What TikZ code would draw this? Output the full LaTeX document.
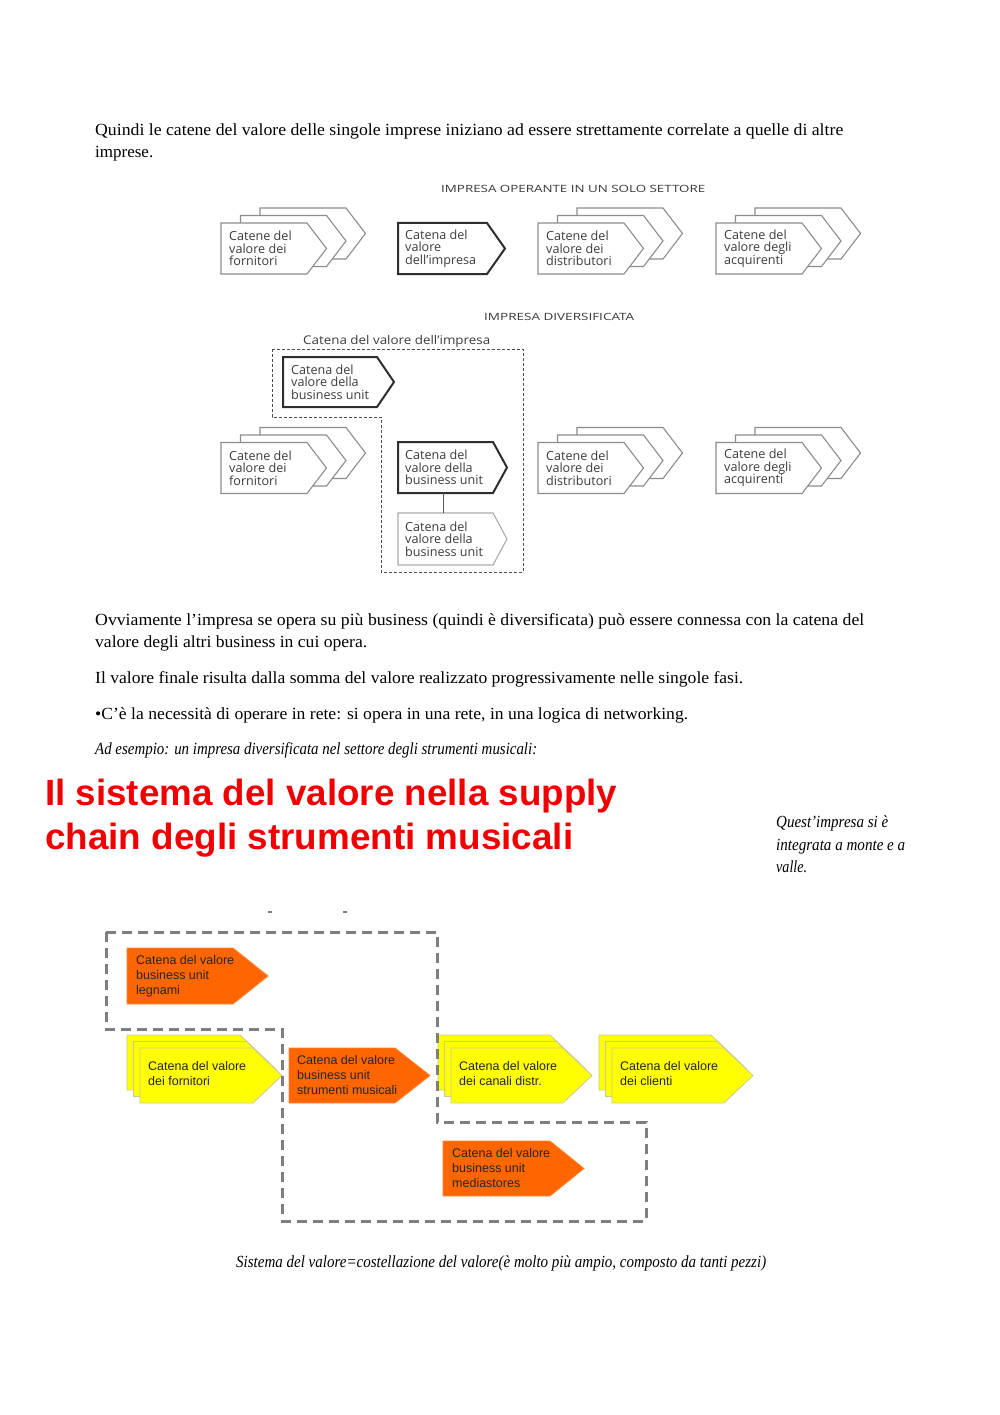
\documentclass[tikz,border=0pt]{standalone}
\usepackage{fontspec}
\usepackage{graphicx}
\setmainfont{Liberation Serif}
\newfontfamily\diagfont{Open Sans}
\newfontfamily\arialfont{Liberation Sans}
\usetikzlibrary{calc}
\definecolor{boxgray}{HTML}{8C8C8C}
\definecolor{darkline}{HTML}{2E2E2E}
\definecolor{lightline}{HTML}{ABABAB}
\definecolor{diagtext}{HTML}{3C3C3C}
\definecolor{orangefill}{HTML}{FF6600}
\definecolor{yellowfill}{HTML}{FFFF00}
\definecolor{yellowedge}{HTML}{C8C8A0}
\definecolor{dashgray}{HTML}{7F7F7F}
\definecolor{titlered}{HTML}{F00000}
\newcommand\fitw[2]{\resizebox{#1pt}{\height}{#2}}
\newcommand\chev[7]{%
  \node[shapebox, minimum width=#4pt, minimum height=#5pt] (#1) at (#2,#3) {};
  \draw[#7] (#1.north west) -- (#1.north east) -- ($(#1.east)+(#6,0)$) -- (#1.south east) -- (#1.south west) -- cycle;}
% top-diagram stack: #1 name, #2 x, #3 y, #4 text
\newcommand\graystack[4]{%
  \chev{#1-back}{#2+39}{#3-15}{86}{51}{19.5}{graybox}
  \chev{#1-mid}{#2+19.5}{#3-7.5}{86}{51}{19.5}{graybox}
  \chev{#1}{#2}{#3}{86}{51}{19.5}{graybox}
  \node[boxtxt] (#1-txt) at ([xshift=8pt]#1.west) {#4};}
% bottom-diagram yellow stack: #1 name, #2 x (back), #3 y (back), #4 width, #5 text
\newcommand\yellowstack[5]{%
  \chev{#1-back}{#2}{#3}{#4}{55}{29}{ybox}
  \chev{#1-mid}{#2+6.5}{#3+6.5}{#4}{55}{29}{ybox}
  \chev{#1}{#2+13}{#3+13}{#4}{55}{29}{ybox}
  \node[atxt] (#1-txt) at ([xshift=8pt,yshift=2pt]#1.west) {#5};}
\begin{document}
\begin{tikzpicture}[x=1pt,y=-1pt,
  shapebox/.style={rectangle, inner sep=0pt, outer sep=0pt, anchor=north west},
  graybox/.style={draw=boxgray, line width=1.1pt, fill=white, line join=miter},
  boldbox/.style={draw=darkline, line width=2pt, fill=white},
  lightbox/.style={draw=lightline, line width=1.1pt, fill=white},
  obox/.style={fill=orangefill, draw=orangefill!80!white, line width=0.8pt},
  ybox/.style={fill=yellowfill, draw=yellowedge, line width=0.8pt},
  boxtxt/.style={font=\diagfont\fontsize{12.6}{12.4}\selectfont, text=diagtext, align=left, inner sep=0pt, anchor=west},
  atxt/.style={font=\arialfont\fontsize{12.5}{15}\selectfont, text=black!85, align=left, inner sep=0pt, anchor=west},
  body/.style={font=\fontsize{17}{20}\selectfont, anchor=base west, inner sep=0pt},
  ital/.style={font=\fontsize{17}{20}\selectfont\itshape, anchor=base west, inner sep=0pt},
  capt/.style={font=\diagfont\fontsize{10}{12}\selectfont, text=black!78, anchor=base west, inner sep=0pt},
  redtitle/.style={font=\arialfont\bfseries\fontsize{36.5}{40}\selectfont, text=titlered, anchor=base west, inner sep=0pt},
  dashA/.style={draw=black!70, dash pattern=on 3pt off 2pt, line width=0.9pt},
  dashB/.style={draw=dashgray, dash pattern=on 10pt off 6pt, line width=3pt},
  bulink/.style={draw=darkline!80, line width=1pt}
]
\useasboundingbox[fill=white] (0,0) rectangle (1000,1415);

% ---------- opening paragraph ----------
\node[body] (p1a) at (95,136) {\fitw{748}{Quindi le catene del valore delle singole imprese iniziano ad essere strettamente correlate a quelle di altre}};
\node[body] (p1b) at (95,158) {imprese.};

% ---------- diagram 1 ----------
\node[capt] (t1) at (441,193) {\fitw{264}{IMPRESA OPERANTE IN UN SOLO SETTORE}};
\graystack{f1}{221}{223}{Catene del\\valore dei\\fornitori}
\chev{imp}{398}{223}{89}{51}{18}{boldbox}
\node[boxtxt] (imp-txt) at ([xshift=7pt]imp.west) {Catena del\\valore\\dell’impresa};
\graystack{d1}{538}{223}{Catene del\\valore dei\\distributori}
\graystack{a1}{716}{223}{Catene del\\valore degli\\acquirenti}

% ---------- diagram 2 ----------
\node[capt] (t2) at (484,320) {\fitw{150}{IMPRESA DIVERSIFICATA}};
\node[capt, font=\diagfont\fontsize{12}{14}\selectfont, text=diagtext] (t3) at (303,344) {\fitw{187}{Catena del valore dell’impresa}};
\draw[dashA] (272,349) -- (523,349) -- (523,572) -- (381,572) -- (381,417) -- (272,417) -- cycle;
\chev{bu1}{283}{357}{94}{50}{17}{boldbox}
\node[boxtxt] (bu1-txt) at ([xshift=8pt]bu1.west) {Catena del\\valore della\\business unit};
\chev{bu2}{398}{442}{95}{51}{14}{boldbox}
\node[boxtxt] (bu2-txt) at ([xshift=7pt]bu2.west) {Catena del\\valore della\\business unit};
\chev{bu3}{398}{513}{95}{52}{14}{lightbox}
\node[boxtxt] (bu3-txt) at ([xshift=7pt]bu3.west) {Catena del\\valore della\\business unit};
\draw[bulink] ([xshift=-2pt]bu2.south) -- ([xshift=-2pt]bu3.north);
\graystack{f2}{221}{442.5}{Catene del\\valore dei\\fornitori}
\graystack{d2}{538}{442.5}{Catene del\\valore dei\\distributori}
\graystack{a2}{716}{442.5}{Catene del\\valore degli\\acquirenti}

% ---------- middle paragraphs ----------
\node[body] (p2a) at (95,625) {\fitw{769}{Ovviamente l’impresa se opera su più business (quindi è diversificata) può essere connessa con la catena del}};
\node[body] (p2b) at (95,647) {\fitw{272}{valore degli altri business in cui opera.}};
\node[body] (p3) at (95,683) {\fitw{648}{Il valore finale risulta dalla somma del valore realizzato progressivamente nelle singole fasi.}};
\node[body] (p4) at (95,719) {\fitw{593}{•C’è la necessità di operare in rete: si opera in una rete, in una logica di networking.}};
\node[ital] (p5) at (95,754) {\fitw{442}{Ad esempio: un impresa diversificata nel settore degli strumenti musicali:}};

% ---------- red title & side note ----------
\node[redtitle] (rt1) at (45,805) {\fitw{572}{Il sistema del valore nella supply}};
\node[redtitle] (rt2) at (45,849) {\fitw{528}{chain degli strumenti musicali}};
\node[ital] (sn1) at (776,827) {\fitw{112}{Quest’impresa si è}};
\node[ital] (sn2) at (776,850) {\fitw{129}{integrata a monte e a}};
\node[ital] (sn3) at (776,872) {\fitw{31}{valle.}};

% ---------- diagram 3 ----------
\draw[dashgray, line width=1.5pt] (268,912) -- (272,912);
\draw[dashgray, line width=1.5pt] (343,912) -- (347,912);
\chev{leg}{127}{948}{106}{56}{35}{obox}
\node[atxt] (leg-txt) at ([xshift=9pt]leg.west) {Catena del valore\\business unit\\legnami};
\yellowstack{yf}{127}{1035}{113}{Catena del valore\\dei fornitori}
\chev{stm}{289}{1048}{106}{55}{35}{obox}
\node[atxt] (stm-txt) at ([xshift=8pt]stm.west) {Catena del valore\\business unit\\strumenti musicali};
\yellowstack{yc}{438}{1035}{112}{Catena del valore\\dei canali distr.}
\yellowstack{ycl}{599}{1035}{112}{Catena del valore\\dei clienti}
\chev{med}{443}{1141}{107}{55}{34}{obox}
\node[atxt] (med-txt) at ([xshift=9pt]med.west) {Catena del valore\\business unit\\mediastores};
\draw[dashB] (106,932) -- (437,932) -- (437,1122) -- (646,1122) -- (646,1221) -- (282,1221) -- (282,1029) -- (106,1029) -- cycle;

% ---------- caption ----------
\node[ital] (cap) at (236,1267) {\fitw{530}{Sistema del valore=costellazione del valore(è molto più ampio, composto da tanti pezzi)}};
\end{tikzpicture}
\end{document}
